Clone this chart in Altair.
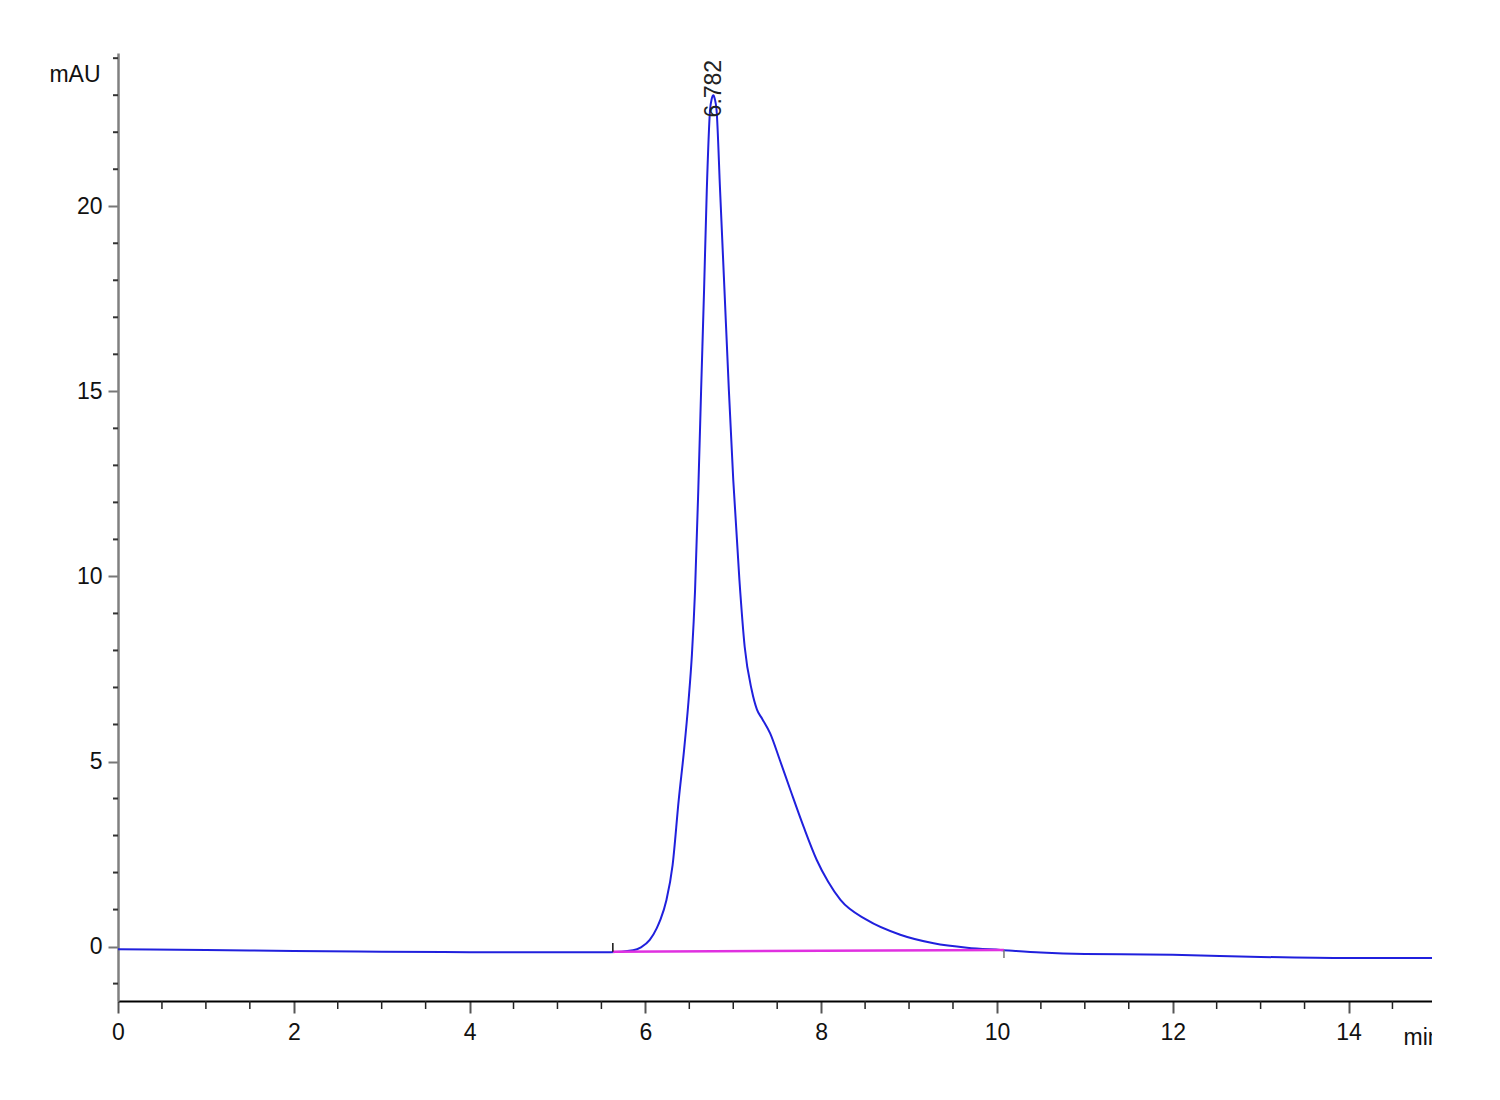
import altair as alt
import pandas as pd

# chromatogram trace (time in min, absorbance in mAU)
times = [0, 1, 2, 3, 4, 5, 5.6, 5.86, 5.95, 6.05, 6.13, 6.17, 6.24, 6.31, 6.38, 6.44, 6.49, 6.53, 6.565,
         6.603, 6.634, 6.668, 6.699, 6.736, 6.755, 6.774, 6.79, 6.81, 6.85, 6.90, 6.95, 7.00, 7.07, 7.13,
         7.21, 7.27, 7.33, 7.42, 7.53, 7.65, 7.80, 7.95, 8.08, 8.22, 8.52, 8.9, 9.28, 9.66, 10.04, 10.5,
         11, 12, 13, 14, 14.95]
signal = [-0.07, -0.09, -0.12, -0.14, -0.15, -0.15, -0.15, -0.10, -0.02, 0.18, 0.5, 0.72, 1.26, 2.2, 3.97, 5.3, 6.6, 7.9, 9.6,
          12.4, 15.0, 17.74, 20.44, 22.6, 22.9, 23.0, 22.9, 22.6, 20.44, 17.74, 15.04, 12.61, 9.91, 8.1,
          6.93, 6.4, 6.15, 5.76, 5.04, 4.23, 3.24, 2.34, 1.75, 1.26, 0.72, 0.32, 0.09, -0.03, -0.09, -0.16,
          -0.2, -0.22, -0.28, -0.31, -0.31]

# integration baseline
base_times = [5.63, 10.08]
base_values = [-0.14, -0.09]
base_mark_top = [0.1, -0.09]
base_mark_bottom = [-0.14, -0.31]
base_mark_colors = ["#111111", "#777777"]

# peak annotation
peak_times = [6.782]
peak_labels = ["6.782"]
peak_label_y = [22.4]

x_major = [0, 2, 4, 6, 8, 10, 12, 14]
x_minor = [v / 2 for v in range(1, 30) if v % 4 != 0]
y_major = [0, 5, 10, 15, 20]
y_minor = [v for v in range(-1, 25) if v % 5 != 0]

FONT = "Liberation Sans, Arial, sans-serif"
FS = 23
W, H = 1314, 948

xs = alt.Scale(domain=[0, 14.95], nice=False, zero=False)
ys = alt.Scale(domain=[-1.47, 24.14], nice=False, zero=False)

trace_df = pd.DataFrame({"t": times, "v": signal})
base_df = pd.DataFrame({"t": base_times, "v": base_values})
marks_df = pd.DataFrame({"t": base_times, "y1": base_mark_bottom, "y2": base_mark_top, "c": base_mark_colors})
peak_df = pd.DataFrame({"t": peak_times, "v": peak_label_y, "label": peak_labels})
xminor_df = pd.DataFrame({"t": x_minor})
yminor_df = pd.DataFrame({"v": y_minor})

trace = alt.Chart(trace_df).mark_line(color="#2020dd", strokeWidth=2, interpolate="monotone").encode(
    x=alt.X("t:Q", scale=xs, axis=alt.Axis(orient="bottom", values=x_major, format="d", labelFlush=False,
                                           grid=False, domainColor="#000", domainWidth=2, tickSize=12,
                                           tickWidth=2, tickColor="#555", labelFont=FONT, labelFontSize=FS,
                                           labelColor="#111", labelPadding=8,
                                           title="min", titleFont=FONT, titleFontSize=FS,
                                           titleFontWeight="normal", titleColor="#111",
                                           titleAlign="left", titleAnchor="start", titleX=1285,
                                           titleY=43, titleBaseline="alphabetic")),
    y=alt.Y("v:Q", scale=ys, axis=alt.Axis(orient="left", values=y_major, format="d", grid=False,
                                           domainColor="#808080", domainWidth=2.5, tickSize=10,
                                           tickWidth=2, tickColor="#777", labelFont=FONT,
                                           labelFontSize=FS, labelColor="#111", labelPadding=6,
                                           title="mAU", titleFont=FONT, titleFontSize=FS,
                                           titleFontWeight="normal", titleColor="#111", titleAngle=0,
                                           titleAlign="right", titleX=-18, titleY=28,
                                           titleBaseline="alphabetic")),
)

x_minor_ticks = alt.Chart(xminor_df).mark_rule(color="#222", strokeWidth=1.5).encode(
    x=alt.X("t:Q", scale=xs), y=alt.value(H), y2=alt.value(H + 8)
)
y_minor_ticks = alt.Chart(yminor_df).mark_rule(color="#333", strokeWidth=2).encode(
    y=alt.Y("v:Q", scale=ys), x=alt.value(-5), x2=alt.value(0)
)

baseline = alt.Chart(base_df).mark_line(color="#e030e0", strokeWidth=2.5).encode(
    x=alt.X("t:Q", scale=xs), y=alt.Y("v:Q", scale=ys)
)

base_marks = alt.Chart(marks_df).mark_rule(strokeWidth=1.5).encode(
    x=alt.X("t:Q", scale=xs), y=alt.Y("y1:Q", scale=ys), y2="y2:Q",
    color=alt.Color("c:N", scale=None),
)

peak_text = alt.Chart(peak_df).mark_text(angle=270, align="left", baseline="middle",
                                         font=FONT, fontSize=23, color="#222").encode(
    x=alt.X("t:Q", scale=xs), y=alt.Y("v:Q", scale=ys), text="label:N"
)

chart = alt.layer(trace, x_minor_ticks, y_minor_ticks, baseline, base_marks, peak_text).properties(
    width=W, height=H,
    background="white",
    padding={"left": 110, "top": 45, "right": 0, "bottom": 70},
    autosize=alt.AutoSizeParams(type="none"),
).configure_view(stroke=None)

chart.save("out.html", embed_options={"renderer": "svg", "actions": False})
